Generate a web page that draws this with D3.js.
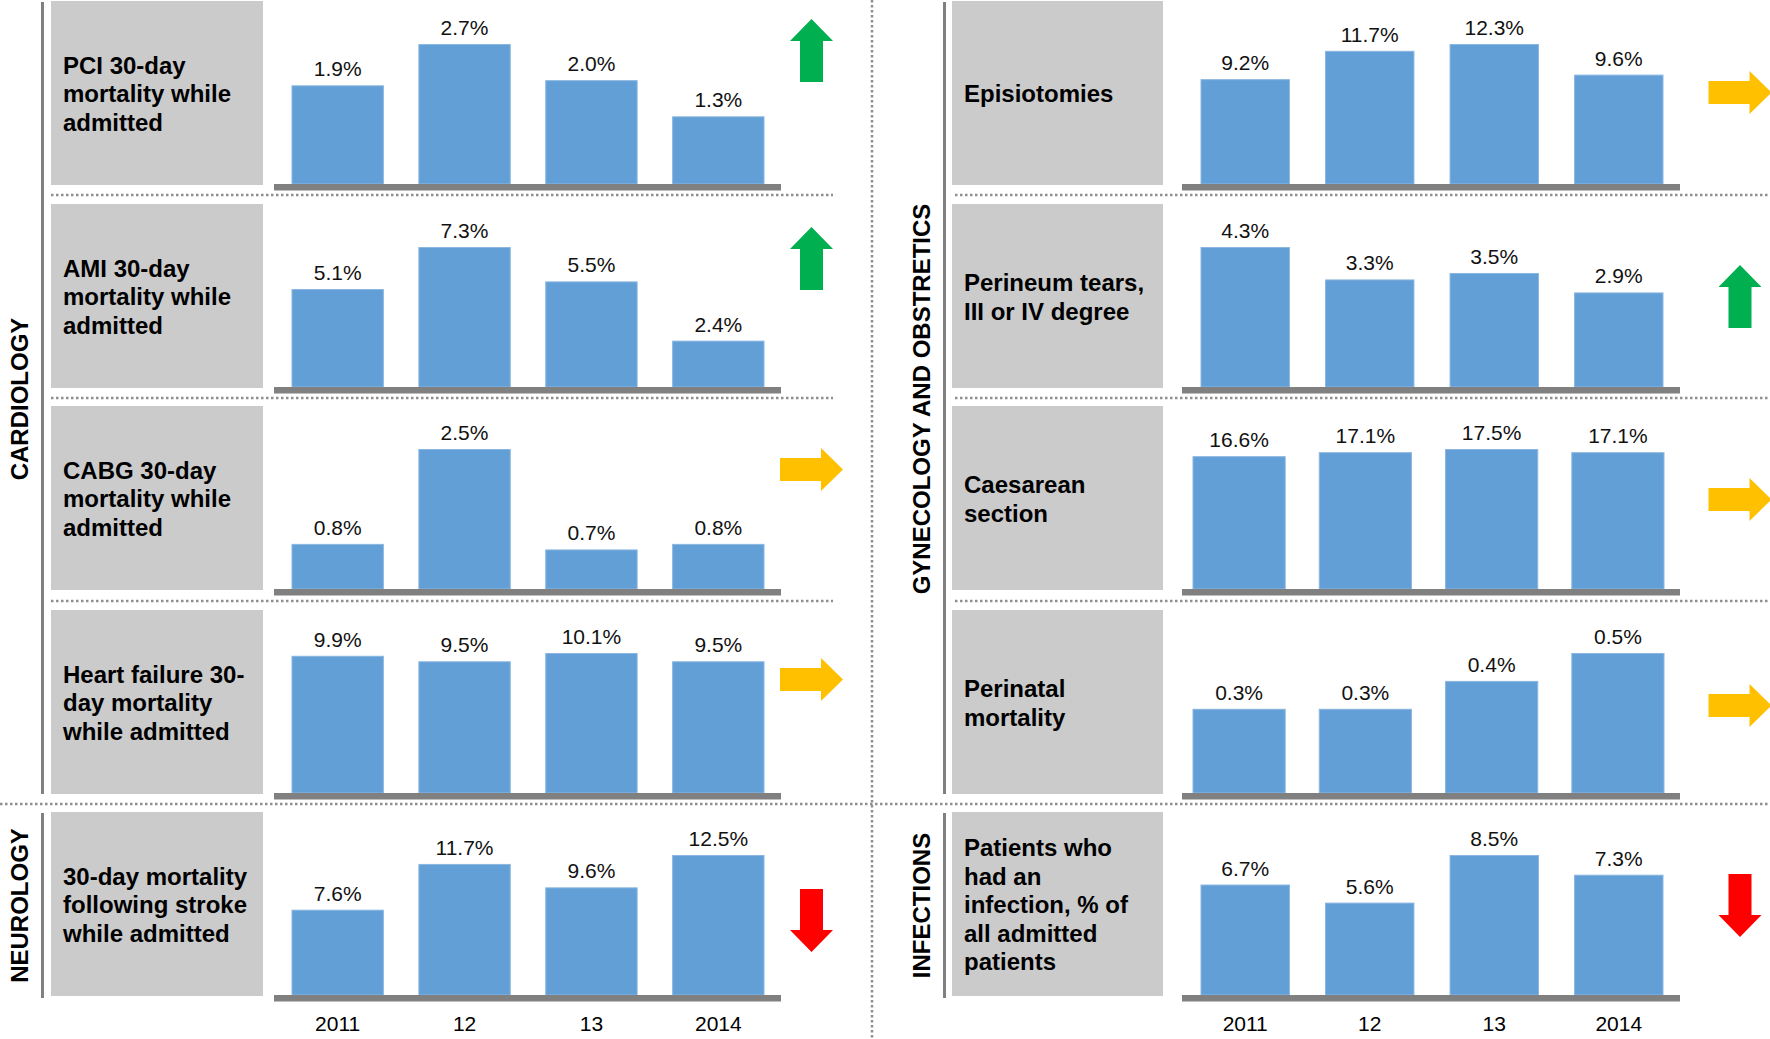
<!DOCTYPE html>
<html>
<head>
<meta charset="utf-8">
<script src="https://cdn.jsdelivr.net/npm/d3@7"></script>
<style>
  html, body { margin: 0; padding: 0; background: #ffffff; }
  svg { display: block; }
  text { font-family: "Liberation Sans", Arial, Helvetica, sans-serif; }
</style>
</head>
<body>
<svg id="chart" width="1770" height="1039"></svg>
<script>
// ---------------- DATA ----------------
const years = ["2011", "12", "13", "2014"];

const sections = ["CARDIOLOGY", "NEUROLOGY", "GYNECOLOGY AND OBSTRETICS", "INFECTIONS"];

const pciLabel = ["PCI 30-day", "mortality while", "admitted"];
const amiLabel = ["AMI 30-day", "mortality while", "admitted"];
const cabgLabel = ["CABG 30-day", "mortality while", "admitted"];
const heartFailureLabel = ["Heart failure 30-", "day mortality", "while admitted"];
const strokeLabel = ["30-day mortality", "following stroke", "while admitted"];
const episiotomyLabel = ["Episiotomies"];
const perineumLabel = ["Perineum tears,", "III or IV degree"];
const caesareanLabel = ["Caesarean", "section"];
const perinatalLabel = ["Perinatal", "mortality"];
const infectionLabel = ["Patients who", "had an", "infection, % of", "all admitted", "patients"];

const pciValues = [1.9, 2.7, 2.0, 1.3];
const amiValues = [5.1, 7.3, 5.5, 2.4];
const cabgValues = [0.8, 2.5, 0.7, 0.8];
const heartFailureValues = [9.9, 9.5, 10.1, 9.5];
const strokeValues = [7.6, 11.7, 9.6, 12.5];
const episiotomyValues = [9.2, 11.7, 12.3, 9.6];
const perineumValues = [4.3, 3.3, 3.5, 2.9];
const caesareanValues = [16.6, 17.1, 17.5, 17.1];
const perinatalValues = [0.3, 0.3, 0.4, 0.5];
const infectionValues = [6.7, 5.6, 8.5, 7.3];

// trend arrows: up (green), right (amber), down (red)
const trends = ["up", "up", "right", "right", "down", "right", "up", "right", "right", "down"];

// ---------------- LAYOUT ----------------
const W = 1770, H = 1039;
const baselines = [184, 387, 589, 793, 995];
const maxBarH = 139.5;
const colLayout = [
  { sectionX: 42.5, boxX0: 51, boxX1: 263, textX: 63, axisX0: 274, axisX1: 781, sepX0: 51, sepX1: 833, titleX: 19, arrowX: 811.5 },
  { sectionX: 944.5, boxX0: 952, boxX1: 1163, textX: 964, axisX0: 1182, axisX1: 1680, sepX0: 955, sepX1: 1770, titleX: 921, arrowX: 1740 }
];

const panels = [
  { col: 0, row: 0, label: pciLabel, values: pciValues, bars: [292, 764, 0.28], arrowY: 50.5 },
  { col: 0, row: 1, label: amiLabel, values: amiValues, bars: [292, 764, 0.28], arrowY: 258.5 },
  { col: 0, row: 2, label: cabgLabel, values: cabgValues, bars: [292, 764, 0.28], arrowY: 469.5 },
  { col: 0, row: 3, label: heartFailureLabel, values: heartFailureValues, bars: [292, 764, 0.28], arrowY: 679.5 },
  { col: 0, row: 4, label: strokeLabel, values: strokeValues, bars: [292, 764, 0.28], arrowY: 920.5 },
  { col: 1, row: 0, label: episiotomyLabel, values: episiotomyValues, bars: [1201, 1663, 0.29], arrowY: 92.5 },
  { col: 1, row: 1, label: perineumLabel, values: perineumValues, bars: [1201, 1663, 0.29], arrowY: 296.5 },
  { col: 1, row: 2, label: caesareanLabel, values: caesareanValues, bars: [1193, 1664, 0.27], arrowY: 499.5 },
  { col: 1, row: 3, label: perinatalLabel, values: perinatalValues, bars: [1193, 1664, 0.27], arrowY: 705.5 },
  { col: 1, row: 4, label: infectionLabel, values: infectionValues, bars: [1201, 1663, 0.29], arrowY: 905.5 }
];

const barColor = "#629fd6";
const axisColor = "#808080";
const boxColor = "#cbcbcb";
const dotColor = "#8f8f8f";
const arrowColors = { up: "#00b050", right: "#ffc000", down: "#ff0000" };

const svg = d3.select("#chart");
svg.append("rect").attr("width", W).attr("height", H).attr("fill", "#fff");

// ---------------- DOTTED SEPARATORS ----------------
const dots = svg.append("g")
  .attr("stroke", dotColor).attr("stroke-width", 2.5).attr("stroke-dasharray", "2.5 2.5").attr("fill", "none");
[195, 398, 601].forEach(y => {
  colLayout.forEach(c => {
    dots.append("line").attr("x1", c.sepX0).attr("x2", c.sepX1).attr("y1", y).attr("y2", y);
  });
});
dots.append("line").attr("x1", 0).attr("x2", W).attr("y1", 804).attr("y2", 804);
dots.append("line").attr("x1", 872).attr("x2", 872).attr("y1", 0).attr("y2", H);

// ---------------- SECTION LINES & TITLES ----------------
const sectionSpans = [[2, 794], [813, 998]];
colLayout.forEach((c, ci) => {
  sectionSpans.forEach((span, si) => {
    svg.append("line")
      .attr("x1", c.sectionX).attr("x2", c.sectionX)
      .attr("y1", span[0]).attr("y2", span[1])
      .attr("stroke", axisColor).attr("stroke-width", 3);
    const title = sections[ci * 2 + si];
    const cy = (span[0] + span[1]) / 2 + (si === 0 ? 1 : 0);
    svg.append("text")
      .attr("transform", `translate(${c.titleX},${cy}) rotate(-90)`)
      .attr("text-anchor", "middle")
      .attr("dy", "0.36em")
      .attr("font-size", 24)
      .attr("font-weight", "bold")
      .attr("fill", "#000")
      .text(title);
  });
});

// ---------------- ARROW SHAPE ----------------
function arrowPath() {
  const p = d3.path();
  p.moveTo(0, -31.5);
  p.lineTo(21.5, -9.5);
  p.lineTo(11.5, -9.5);
  p.lineTo(11.5, 31.5);
  p.lineTo(-11.5, 31.5);
  p.lineTo(-11.5, -9.5);
  p.lineTo(-21.5, -9.5);
  p.closePath();
  return p.toString();
}
const rotation = { up: 0, right: 90, down: 180 };

// ---------------- PANELS ----------------
panels.forEach((pn, i) => {
  const c = colLayout[pn.col];
  const base = baselines[pn.row];
  const g = svg.append("g");

  // label box
  g.append("rect")
    .attr("x", c.boxX0).attr("y", base - 183)
    .attr("width", c.boxX1 - c.boxX0).attr("height", 184)
    .attr("fill", boxColor);

  // label text (vertically centred in box)
  const cy = base - 183 + 93;
  const lh = 28.5;
  const n = pn.label.length;
  const t = g.append("text")
    .attr("font-size", 24).attr("font-weight", "bold").attr("fill", "#000");
  pn.label.forEach((line, li) => {
    t.append("tspan")
      .attr("x", c.textX)
      .attr("y", cy + (li - (n - 1) / 2) * lh)
      .attr("dy", "0.35em")
      .text(line);
  });

  // scales
  const x = d3.scaleBand().domain(years).range([pn.bars[0], pn.bars[1]])
    .paddingInner(pn.bars[2]).paddingOuter(0);
  const y = d3.scaleLinear().domain([0, d3.max(pn.values)]).range([base, base - maxBarH]);

  // bars
  g.selectAll("rect.bar").data(pn.values).enter().append("rect")
    .attr("class", "bar")
    .attr("x", (d, j) => x(years[j]))
    .attr("y", d => y(d))
    .attr("width", x.bandwidth())
    .attr("height", d => base - y(d))
    .attr("fill", barColor)
    .attr("stroke", "#8ab6e0").attr("stroke-width", 1);

  // value labels
  g.selectAll("text.val").data(pn.values).enter().append("text")
    .attr("class", "val")
    .attr("x", (d, j) => x(years[j]) + x.bandwidth() / 2)
    .attr("y", d => y(d) - 9.5)
    .attr("text-anchor", "middle")
    .attr("font-size", 21)
    .attr("fill", "#111")
    .text(d => d.toFixed(1) + "%");

  // base axis strip
  g.append("rect")
    .attr("x", c.axisX0).attr("y", base)
    .attr("width", c.axisX1 - c.axisX0).attr("height", 6.5)
    .attr("fill", axisColor);

  // year axis under bottom row
  if (pn.row === 4) {
    const axis = d3.axisBottom(x).tickSize(0).tickPadding(0);
    const ag = g.append("g").attr("transform", `translate(0,${1013})`).call(axis);
    ag.select(".domain").remove();
    ag.selectAll("text")
      .attr("font-size", 21)
      .attr("fill", "#000")
      .attr("dy", "0.88em")
      .style("font-family", "'Liberation Sans', Arial, sans-serif");
  }

  // trend arrow
  const dir = trends[i];
  g.append("path")
    .attr("d", arrowPath())
    .attr("transform", `translate(${c.arrowX},${pn.arrowY}) rotate(${rotation[dir]})`)
    .attr("fill", arrowColors[dir]);
});
</script>
</body>
</html>
